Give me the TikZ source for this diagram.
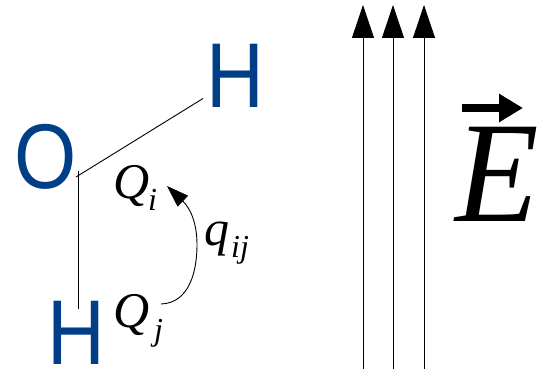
\documentclass[tikz,border=0pt]{standalone}
\usepackage{fontspec}
\setmainfont{Liberation Serif}
\newfontfamily\atomfont[FakeStretch=0.87]{Liberation Sans}
\newfontfamily\bigefont[FakeStretch=0.95]{Liberation Serif Italic}
\usetikzlibrary{arrows.meta}
\definecolor{atomblue}{HTML}{003F87}
\tikzset{
  atom/.style={text=atomblue,font=\atomfont\fontsize{92}{92}\selectfont,inner sep=0pt,anchor=base},
  sym/.style={font=\itshape\fontsize{50}{50}\selectfont,inner sep=0pt,anchor=base west},
  subs/.style={font=\itshape\fontsize{32}{32}\selectfont,inner sep=0pt,anchor=base west},
  bond/.style={line width=0.9pt,black},
  field/.style={line width=0.9pt,black,-{Triangle[width=22pt,length=33pt]}},
  transfer/.style={line width=0.9pt,black,-{Triangle[width=15pt,length=22pt]}}
}
\begin{document}
\begin{tikzpicture}[x=1pt,y=-1pt]
\useasboundingbox (0,0) rectangle (539,369);
\node[atom] (O) at (46,188) {O};
\node[atom] (H1) at (235,108) {H};
\node[atom] (H2) at (76,364) {H};
\coordinate (Ob1) at (76,177);
\coordinate (H1b) at (203,98.5);
\coordinate (Ob2) at (78,171);
\coordinate (H2b) at (78,309);
\draw[bond] (Ob1) -- (H1b);
\draw[bond] (Ob2) -- (H2b);
\node[sym] (Qi) at (113,198) {Q};
\node[subs] (si) at (148,211) {i};
\node[sym] (Qj) at (113,327) {Q};
\node[subs] (sj) at (154,340) {j};
\node[sym] (q) at (204,245) {q};
\node[subs] (sij) at (231,257) {ij};
\coordinate (cs) at (161,304);
\coordinate (ce) at (167,186);
\draw[transfer] (cs) .. controls (190,303) and (197,270) .. (197,245) .. controls (197,222) and (190,208) .. (ce);
\foreach \x/\n in {363/a,393/b,424/c}{
  \coordinate (f\n s) at (\x,369);
  \coordinate (f\n e) at (\x,5);
  \draw[field] (f\n s) -- (f\n e);
}
\node[font=\bigefont\fontsize{144}{144}\selectfont,inner sep=0pt,anchor=base west] (E) at (455,222) {E};
\coordinate (vs) at (462,108);
\coordinate (ve) at (523,108);
\draw[line width=8pt,-{Triangle[width=27pt,length=24pt]}] (vs) -- (ve);
\end{tikzpicture}
\end{document}
